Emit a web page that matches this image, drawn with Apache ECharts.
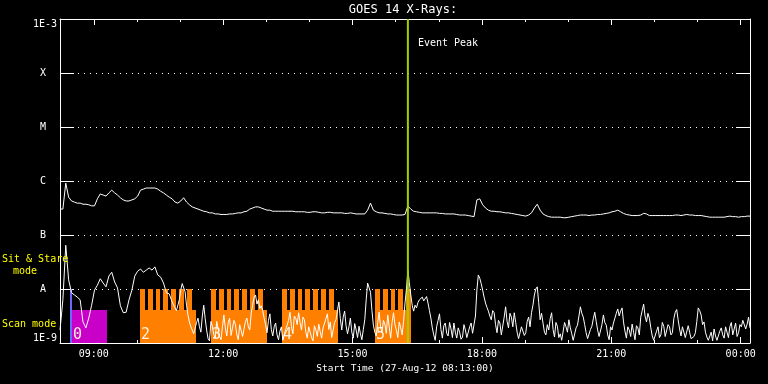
<!DOCTYPE html>
<html><head><meta charset="utf-8">
<script src="https://cdn.jsdelivr.net/npm/echarts@6/dist/echarts.min.js"></script>
<style>html,body{margin:0;background:#000}#c{width:768px;height:384px}</style>
</head><body><div id="c"></div>
<script>
// ---- data ----
const startHour = 8 + 13 / 60;          // 08:13
const endHour = startHour + 16;         // 00:13
const longSampleHours = 4 / 60;         // 4-minute samples
const yTickLabels = ['1E-9', 'A', 'B', 'C', 'M', 'X', '1E-3'];
const xMajorHours = [9, 12, 15, 18, 21, 24];
const xMinorHours = [9, 10, 11, 12, 13, 14, 15, 16, 17, 18, 19, 20, 21, 22, 23, 24];
// log10 flux, long channel (4-min samples from 08:13)
const longLog = [
-6.52,-6.52,-6.04,-6.30,-6.37,-6.39,-6.41,-6.41,-6.43,-6.43,
-6.44,-6.46,-6.46,-6.33,-6.24,-6.26,-6.28,-6.22,-6.17,-6.22,
-6.26,-6.31,-6.35,-6.37,-6.37,-6.35,-6.33,-6.28,-6.17,-6.15,
-6.13,-6.13,-6.13,-6.13,-6.15,-6.19,-6.22,-6.26,-6.30,-6.33,
-6.39,-6.41,-6.37,-6.31,-6.39,-6.44,-6.48,-6.50,-6.52,-6.54,
-6.56,-6.57,-6.59,-6.59,-6.61,-6.61,-6.62,-6.62,-6.62,-6.61,
-6.61,-6.60,-6.59,-6.59,-6.57,-6.56,-6.52,-6.50,-6.48,-6.48,
-6.50,-6.52,-6.54,-6.54,-6.56,-6.56,-6.56,-6.56,-6.56,-6.56,
-6.56,-6.56,-6.57,-6.57,-6.57,-6.57,-6.58,-6.58,-6.57,-6.57,
-6.58,-6.59,-6.59,-6.58,-6.58,-6.59,-6.59,-6.59,-6.59,-6.60,
-6.60,-6.59,-6.60,-6.61,-6.61,-6.61,-6.61,-6.54,-6.41,-6.54,
-6.57,-6.59,-6.59,-6.60,-6.61,-6.61,-6.62,-6.63,-6.63,-6.63,
-6.62,-6.46,-6.52,-6.56,-6.57,-6.58,-6.59,-6.59,-6.59,-6.59,
-6.59,-6.59,-6.60,-6.60,-6.61,-6.61,-6.61,-6.61,-6.62,-6.63,
-6.63,-6.63,-6.64,-6.65,-6.66,-6.35,-6.33,-6.44,-6.50,-6.54,
-6.56,-6.56,-6.57,-6.57,-6.58,-6.59,-6.59,-6.60,-6.61,-6.62,
-6.63,-6.64,-6.65,-6.63,-6.59,-6.50,-6.43,-6.54,-6.61,-6.64,
-6.66,-6.67,-6.67,-6.67,-6.67,-6.68,-6.68,-6.67,-6.66,-6.65,
-6.64,-6.63,-6.63,-6.63,-6.64,-6.63,-6.63,-6.62,-6.62,-6.61,
-6.60,-6.59,-6.57,-6.56,-6.54,-6.57,-6.60,-6.62,-6.63,-6.64,
-6.64,-6.64,-6.63,-6.60,-6.61,-6.64,-6.64,-6.64,-6.64,-6.64,
-6.64,-6.64,-6.64,-6.64,-6.63,-6.63,-6.64,-6.63,-6.62,-6.63,
-6.63,-6.64,-6.64,-6.64,-6.65,-6.66,-6.67,-6.67,-6.67,-6.67,
-6.67,-6.67,-6.66,-6.65,-6.66,-6.66,-6.67,-6.66,-6.66,-6.65,-6.65];
// log10 flux, short channel: 4-min samples 08:13-10:49, then 2-min samples 10:53-00:13
const shortEarlyHours = 4 / 60;
const shortLogEarly = [
-8.76,-8.20,-7.19,-7.83,-8.07,-8.11,-8.15,-8.20,-8.61,-8.72,
-8.54,-8.30,-8.02,-7.93,-7.81,-7.89,-7.96,-7.76,-7.69,-7.87,
-7.98,-8.31,-8.44,-8.43,-8.20,-8.02,-7.76,-7.67,-7.63,-7.69,
-7.65,-7.61,-7.65,-7.59,-7.74,-7.78,-7.89,-8.07,-8.09,-8.24];
const shortLateStart = startHour + 160 / 60;   // 10:53
const shortLateHours = 2 / 60;
const shortLogLate = [
-8.35,-8.40,-8.43,-8.20,-8.02,-7.90,-7.87,-8.05,-8.30,-8.48,
-8.61,-8.70,-8.76,-8.83,-8.85,-8.62,-8.54,-8.70,-8.80,-8.50,
-8.30,-8.55,-8.76,-8.92,-8.96,-8.60,-8.69,-8.85,-8.91,-8.60,
-8.74,-8.88,-8.94,-8.70,-8.48,-8.72,-8.87,-8.62,-8.54,-8.86,
-8.83,-8.58,-8.65,-8.85,-8.94,-8.66,-8.69,-8.88,-8.91,-8.60,
-8.54,-8.70,-8.76,-8.45,-8.30,-8.15,-8.11,-8.28,-8.20,-8.36,
-8.31,-8.40,-8.54,-8.66,-8.81,-8.58,-8.46,-8.75,-8.87,-8.70,
-8.63,-8.85,-8.94,-8.78,-8.70,-8.95,-8.96,-8.75,-8.67,-8.58,
-8.43,-8.70,-8.83,-8.50,-8.54,-8.66,-8.44,-8.62,-8.76,-8.52,
-8.57,-8.80,-8.91,-8.70,-8.72,-8.90,-8.96,-8.68,-8.76,-8.88,
-8.65,-8.79,-8.91,-8.72,-8.69,-8.55,-8.46,-8.75,-8.61,-8.90,
-8.87,-8.62,-8.57,-8.40,-8.24,-8.55,-8.76,-8.52,-8.41,-8.68,
-8.83,-8.70,-8.54,-8.80,-8.91,-8.64,-8.76,-8.90,-8.69,-8.83,
-8.94,-8.75,-8.57,-8.20,-7.89,-7.92,-8.06,-8.40,-8.67,-8.80,
-8.87,-8.62,-8.43,-8.70,-8.80,-8.58,-8.65,-8.82,-8.48,-8.70,
-8.91,-8.62,-8.44,-8.66,-8.76,-8.90,-8.61,-8.72,-8.85,-8.60,
-8.26,-8.00,-7.65,-7.88,-8.11,-8.30,-8.41,-8.30,-8.35,-8.25,
-8.20,-8.18,-8.15,-8.22,-8.19,-8.14,-8.26,-8.40,-8.54,-8.72,
-8.85,-8.95,-8.70,-8.58,-8.46,-8.75,-8.91,-8.68,-8.63,-8.82,
-8.87,-8.62,-8.74,-8.90,-8.63,-8.80,-8.91,-8.72,-8.80,-8.93,
-8.89,-8.66,-8.76,-8.90,-8.93,-8.70,-8.63,-8.82,-8.85,-8.50,
-8.02,-7.74,-7.80,-7.90,-8.02,-8.15,-8.26,-8.34,-8.41,-8.50,
-8.57,-8.40,-8.44,-8.66,-8.81,-8.58,-8.63,-8.85,-8.87,-8.52,
-8.33,-8.60,-8.72,-8.45,-8.52,-8.70,-8.44,-8.62,-8.80,-8.92,
-8.93,-8.70,-8.67,-8.86,-8.81,-8.60,-8.52,-8.70,-8.44,-8.30,
-8.11,-8.00,-7.96,-8.25,-8.57,-8.45,-8.63,-8.80,-8.85,-8.66,
-8.76,-8.55,-8.44,-8.75,-8.89,-8.62,-8.69,-8.90,-8.83,-8.95,
-8.94,-8.62,-8.70,-8.80,-8.57,-8.72,-8.83,-8.95,-8.93,-8.72,
-8.67,-8.50,-8.33,-8.45,-8.52,-8.66,-8.81,-8.92,-8.94,-8.75,
-8.69,-8.55,-8.43,-8.60,-8.76,-8.88,-8.91,-8.66,-8.48,-8.62,
-8.67,-8.85,-8.94,-8.70,-8.76,-8.63,-8.54,-8.45,-8.37,-8.50,
-8.41,-8.35,-8.61,-8.78,-8.91,-8.70,-8.76,-8.88,-8.65,-8.80,
-8.94,-8.68,-8.72,-8.85,-8.52,-8.40,-8.28,-8.50,-8.61,-8.45,
-8.54,-8.72,-8.87,-8.95,-8.94,-8.78,-8.70,-8.90,-8.85,-8.62,
-8.69,-8.88,-8.91,-8.66,-8.70,-8.85,-8.81,-8.55,-8.43,-8.38,
-8.57,-8.74,-8.87,-8.70,-8.72,-8.90,-8.93,-8.68,-8.80,-8.92,
-8.94,-8.88,-8.81,-8.60,-8.35,-8.40,-8.48,-8.66,-8.61,-8.80,
-8.89,-8.95,-8.94,-8.80,-8.96,-8.74,-8.87,-8.95,-8.94,-8.78,
-8.72,-8.85,-8.91,-8.70,-8.80,-8.90,-8.70,-8.62,-8.85,-8.74,
-8.63,-8.88,-8.81,-8.66,-8.70,-8.58,-8.56,-8.74,-8.65,-8.52,
-8.72];
// observing modes (hours of day)
const stareLevel = -8;      // A level
const scanLevel = -8.39;
const stareSpans = [[8.449, 8.495]];
const scanSpans = [[8.495, 9.306], [10.072, 11.370], [11.718, 13.010], [13.365, 14.663], [15.521, 16.367]];
const scanNumbers = ['0', '2', '3', '4', '5'];
const scanTeeth = [
 [10.072,10.184],[10.253,10.365],[10.434,10.546],[10.615,10.727],[10.796,10.908],[10.977,11.089],[11.158,11.270],
 [11.718,11.830],[11.899,12.011],[12.080,12.192],[12.261,12.373],[12.442,12.554],[12.623,12.735],[12.804,12.916],
 [13.365,13.477],[13.546,13.658],[13.727,13.839],[13.908,14.020],[14.089,14.201],[14.270,14.382],[14.451,14.563],
 [15.521,15.633],[15.702,15.814],[15.883,15.995],[16.064,16.176],[16.245,16.357]];
const eventPeakHour = 16 + 17 / 60;

// ---- chart ----
const mono = 'DejaVu Sans Mono';
const chart = echarts.init(document.getElementById('c'), null, {renderer: 'canvas'});
const toPairs = (arr, t0, dt) => arr.map((v, i) => [t0 + i * dt, v]);
const hhmm = v => String(Math.round(v) % 24).padStart(2, '0') + ':00';
const shortPairs = toPairs(shortLogEarly, startHour, shortEarlyHours).concat(toPairs(shortLogLate, shortLateStart, shortLateHours));

const modeData = [];
scanSpans.forEach((s, k) => modeData.push([s[0], s[1], scanLevel, k === 0 ? 1 : 2, k]));
scanTeeth.forEach(s => modeData.push([s[0], s[1], stareLevel, 2, -1]));
stareSpans.forEach(s => modeData.push([s[0], s[1], stareLevel, 0, -1]));
const modeColors = ['#6a6aff', '#c800c8', '#ff8000'];

const xBase = {type: 'value', min: startHour, max: endHour, gridIndex: 0, splitLine: {show: false}};
const option = {
  backgroundColor: '#000',
  animation: false,
  grid: {left: 60, right: 18, top: 19, bottom: 41, outerBoundsMode: 'none'},
  xAxis: [
    Object.assign({}, xBase, {position: 'bottom',
      axisLine: {show: true, lineStyle: {color: '#fff', width: 1}},
      axisTick: {show: true, inside: true, length: 6, customValues: xMajorHours, lineStyle: {color: '#fff'}},
      axisLabel: {show: true, customValues: xMajorHours, formatter: hhmm, color: '#fff', fontFamily: mono, fontSize: 10, margin: 6}}),
    Object.assign({}, xBase, {position: 'bottom', axisLine: {show: false},
      axisTick: {show: true, inside: true, length: 3, customValues: xMinorHours, lineStyle: {color: '#fff'}},
      axisLabel: {show: false}}),
    Object.assign({}, xBase, {position: 'top',
      axisLine: {show: true, lineStyle: {color: '#fff', width: 1}},
      axisTick: {show: true, inside: true, length: 6, customValues: xMajorHours, lineStyle: {color: '#fff'}},
      axisLabel: {show: false}}),
    Object.assign({}, xBase, {position: 'top', axisLine: {show: false},
      axisTick: {show: true, inside: true, length: 3, customValues: xMinorHours, lineStyle: {color: '#fff'}},
      axisLabel: {show: false}})
  ],
  yAxis: [
    {type: 'value', min: -9, max: -3, interval: 1, position: 'left',
     axisLine: {show: true, lineStyle: {color: '#fff', width: 1}},
     axisTick: {show: true, inside: true, length: 14, lineStyle: {color: '#fff'}},
     axisLabel: {color: '#fff', margin: 3, fontFamily: mono, fontSize: 10,
       verticalAlignMinLabel: 'bottom', verticalAlignMaxLabel: 'top',
       formatter: v => {
         const t = yTickLabels[Math.round(v) + 9];
         return t.length === 1 ? '{l|' + t + '}' : '{n|' + t + '}';
       },
       rich: {l: {width: 28, align: 'center', color: '#fff', fontFamily: mono, fontSize: 10},
              n: {color: '#fff', fontFamily: mono, fontSize: 10}}},
     splitLine: {show: true, lineStyle: {color: '#fff', type: [1, 5], width: 1}}},
    {type: 'value', min: -9, max: -3, interval: 1, position: 'right',
     axisLine: {show: true, lineStyle: {color: '#fff', width: 1}},
     axisTick: {show: true, inside: true, length: 14, lineStyle: {color: '#fff'}},
     axisLabel: {show: false}, splitLine: {show: false}}
  ],
  graphic: [
    {type: 'text', x: 403, y: 10, z: 100, style: {text: 'GOES 14 X-Rays:', fill: '#fff', font: '12px "DejaVu Sans Mono"', textAlign: 'center', textVerticalAlign: 'middle'}},
    {type: 'text', x: 405, y: 369, z: 100, style: {text: 'Start Time (27-Aug-12 08:13:00)', fill: '#fff', font: '9.5px "DejaVu Sans Mono"', textAlign: 'center', textVerticalAlign: 'middle'}},
    {type: 'text', x: 2, y: 259, z: 100, style: {text: 'Sit & Stare', fill: '#ffff00', font: '10px "DejaVu Sans Mono"', textAlign: 'left', textVerticalAlign: 'middle'}},
    {type: 'text', x: 13, y: 271, z: 100, style: {text: 'mode', fill: '#ffff00', font: '10px "DejaVu Sans Mono"', textAlign: 'left', textVerticalAlign: 'middle'}},
    {type: 'text', x: 2, y: 324, z: 100, style: {text: 'Scan mode', fill: '#ffff00', font: '10px "DejaVu Sans Mono"', textAlign: 'left', textVerticalAlign: 'middle'}}
  ],
  series: [
    {type: 'custom', xAxisIndex: 0, yAxisIndex: 0, z: 1, clip: true, data: modeData,
     encode: {x: [0, 1], y: 2},
     renderItem: (params, api) => {
       const s = api.value(0), e = api.value(1), top = api.value(2), kind = api.value(3), lab = api.value(4);
       const p0 = api.coord([s, top]), p1 = api.coord([e, -9]);
       const x0 = Math.round(p0[0]), x1 = Math.max(Math.round(p1[0]), Math.round(p0[0]) + 2), y0 = Math.round(p0[1]), y1 = Math.round(p1[1]);
       const children = [{type: 'rect', shape: {x: x0, y: y0, width: x1 - x0, height: y1 - y0}, style: {fill: modeColors[kind]}}];
       if (lab >= 0) {
         children.push({type: 'text', z2: 5, style: {text: scanNumbers[lab], x: x0 + 1, y: y1 - 8, fill: '#ffeedd', font: '15px "DejaVu Sans Mono"', textVerticalAlign: 'middle'}});
       }
       return {type: 'group', children};
     }},
    {type: 'line', xAxisIndex: 0, yAxisIndex: 0, z: 3, data: toPairs(longLog, startHour, longSampleHours), showSymbol: false, symbol: 'none',
     lineStyle: {color: '#fff', width: 1}},
    {type: 'line', xAxisIndex: 0, yAxisIndex: 0, z: 3, data: shortPairs, showSymbol: false, symbol: 'none',
     lineStyle: {color: '#fff', width: 1}},
    {type: 'custom', xAxisIndex: 0, yAxisIndex: 0, z: 5, clip: false, data: [[eventPeakHour]],
     renderItem: (params, api) => {
       const pt = api.coord([api.value(0), -3]), pb = api.coord([api.value(0), -9]);
       return {type: 'group', children: [
         {type: 'line', shape: {x1: pt[0], y1: pt[1], x2: pb[0], y2: pb[1]}, style: {stroke: '#a0d000', lineWidth: 2}},
         {type: 'text', style: {text: 'Event Peak', x: pt[0] + 10, y: pt[1] + 24, fill: '#fff', font: '10px "DejaVu Sans Mono"', textVerticalAlign: 'middle'}}
       ]};
     }}
  ]
};
chart.setOption(option);
</script></body></html>
